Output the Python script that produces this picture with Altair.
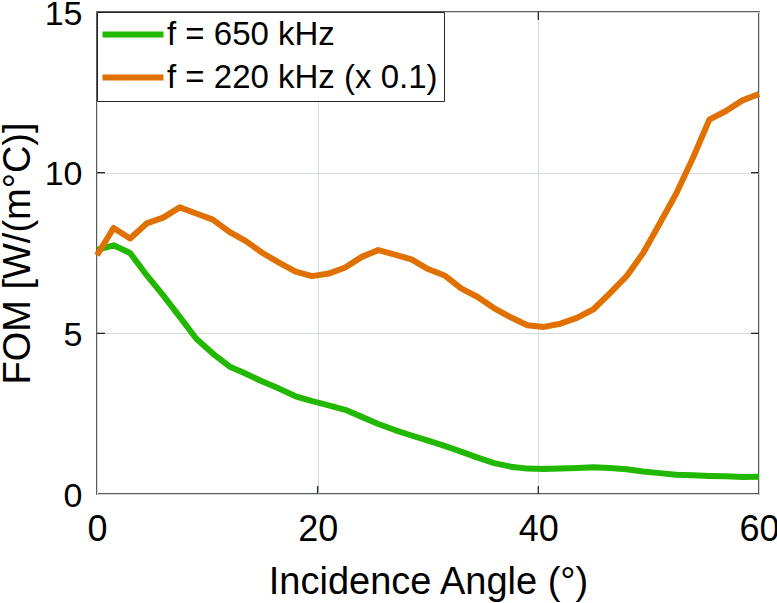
import altair as alt
import pandas as pd

# Incidence angle sweep (degrees)
angle = [0, 1.5, 3, 4.5, 6, 7.5, 9, 10.5, 12, 13.5, 15, 16.5, 18, 19.5, 21,
         22.5, 24, 25.5, 27, 28.5, 30, 31.5, 33, 34.5, 36, 37.5, 39, 40.5,
         42, 43.5, 45, 46.5, 48, 49.5, 51, 52.5, 54, 55.5, 57, 58.5, 60]

# Figure of merit, f = 650 kHz
fom_650 = [7.60, 7.74, 7.50, 6.81, 6.18, 5.51, 4.83, 4.37, 3.97, 3.74, 3.50,
           3.28, 3.04, 2.89, 2.76, 2.62, 2.40, 2.18, 1.99, 1.82, 1.66, 1.50,
           1.32, 1.13, 0.96, 0.85, 0.79, 0.78, 0.79, 0.81, 0.83, 0.81, 0.77,
           0.70, 0.65, 0.60, 0.58, 0.56, 0.55, 0.53, 0.54]

# Figure of merit, f = 220 kHz (scaled by 0.1)
fom_220 = [7.43, 8.28, 7.95, 8.42, 8.60, 8.92, 8.73, 8.54, 8.16, 7.87, 7.50,
           7.20, 6.92, 6.78, 6.86, 7.05, 7.38, 7.59, 7.45, 7.30, 7.00, 6.80,
           6.40, 6.13, 5.78, 5.50, 5.25, 5.20, 5.30, 5.48, 5.75, 6.25, 6.78,
           7.50, 8.42, 9.35, 10.45, 11.65, 11.92, 12.25, 12.45]

series_names = ["f = 650 kHz", "f = 220 kHz (x 0.1)"]
series_colors = ["#22b800", "#e07000"]

x_ticks = [0, 20, 40, 60]
y_ticks = [0, 5, 10, 15]
x_inner_ticks = [20, 40]
y_inner_ticks = [5, 10]

W, H = 662, 482
FONT = "Liberation Sans"

df = pd.concat([
    pd.DataFrame({"angle": angle, "fom": fom_650, "series": series_names[0]}),
    pd.DataFrame({"angle": angle, "fom": fom_220, "series": series_names[1]}),
])

x_scale = alt.Scale(domain=[0, 60], nice=False, zero=False)
y_scale = alt.Scale(domain=[0, 15], nice=False, zero=False)

x_axis = alt.Axis(values=x_ticks, title="Incidence Angle (°)", grid=True,
                  tickSize=0, domain=False, labelFlush=False,
                  labelFontSize=36, labelPadding=18,
                  titleFontSize=38, titleY=99, titleBaseline="alphabetic")
y_axis = alt.Axis(values=y_ticks, title="FOM [W/(m°C)]", grid=True,
                  tickSize=0, domain=False, labelFlush=False,
                  labelFontSize=34, labelPadding=15, labelOffset=2,
                  titleFontSize=38, titleX=-68, titleBaseline="alphabetic")

color = alt.Color(
    "series:N",
    scale=alt.Scale(domain=series_names, range=series_colors),
    legend=alt.Legend(
        title=None, orient="top-left", offset=0,
        symbolType="M-1.36,0H3.52", symbolSize=625, symbolStrokeWidth=6,
        labelFontSize=33, labelFont=FONT, labelColor="black", labelLimit=0,
        labelOffset=31, rowPadding=9, padding=6,
        strokeColor="#262626", fillColor="white", cornerRadius=0,
    ),
)

base = alt.Chart(df).encode(
    x=alt.X("angle:Q", scale=x_scale, axis=x_axis),
    y=alt.Y("fom:Q", scale=y_scale, axis=y_axis),
    color=color,
    order="angle:Q",
)

line_650 = base.transform_filter(
    alt.datum.series == series_names[0]
).mark_line(strokeWidth=6, strokeJoin="round")
line_220 = base.transform_filter(
    alt.datum.series == series_names[1]
).mark_line(strokeWidth=6, strokeJoin="round")

# Inward-pointing tick marks on all four sides of the box
xt = pd.DataFrame({"t": x_inner_ticks})
yt = pd.DataFrame({"t": y_inner_ticks})
tick_style = dict(color="#262626", strokeWidth=1.3)

ticks_bottom = alt.Chart(xt).mark_rule(**tick_style).encode(
    x=alt.X("t:Q", scale=x_scale, axis=x_axis), y=alt.value(H), y2=alt.value(H - 8))
ticks_top = alt.Chart(xt).mark_rule(**tick_style).encode(
    x=alt.X("t:Q", scale=x_scale, axis=x_axis), y=alt.value(0), y2=alt.value(8))
ticks_left = alt.Chart(yt).mark_rule(**tick_style).encode(
    y=alt.Y("t:Q", scale=y_scale, axis=y_axis), x=alt.value(0), x2=alt.value(8))
ticks_right = alt.Chart(yt).mark_rule(**tick_style).encode(
    y=alt.Y("t:Q", scale=y_scale, axis=y_axis), x=alt.value(W), x2=alt.value(W - 8))

chart = alt.layer(
    line_650, line_220, ticks_bottom, ticks_top, ticks_left, ticks_right
).properties(
    width=W, height=H,
    padding={"left": 97, "top": 12, "right": 18, "bottom": 109},
    autosize=alt.AutoSizeParams(type="none"),
).configure(
    font=FONT,
).configure_view(
    stroke="#262626", strokeWidth=1.5,
).configure_axis(
    labelFont=FONT, titleFont=FONT, labelColor="black", titleColor="black",
    titleFontWeight="normal", gridColor="#d3dbdb", gridWidth=1,
)

chart.save("out.html", embed_options={"renderer": "svg", "actions": False})
